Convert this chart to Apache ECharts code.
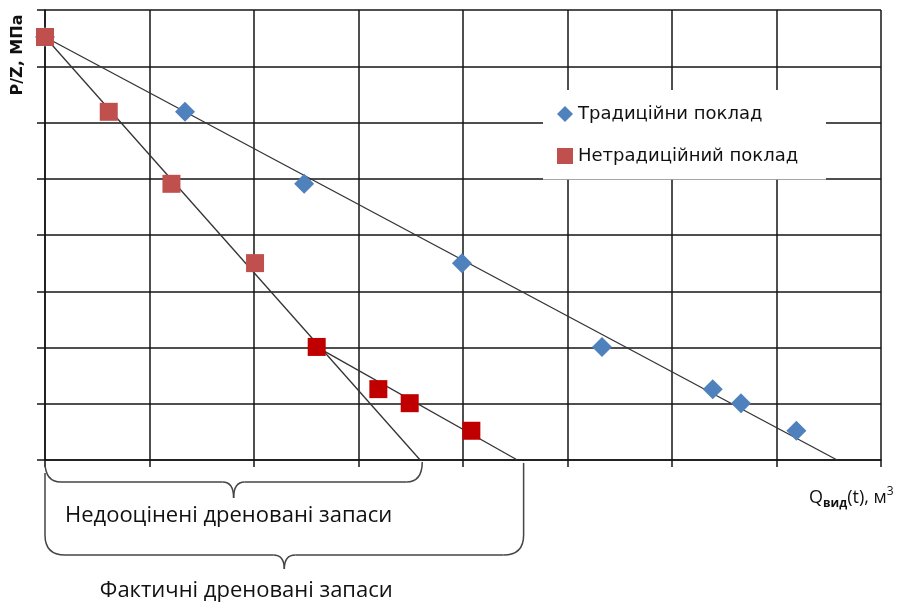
<!DOCTYPE html>
<html><head><meta charset="utf-8">
<script src="https://cdn.jsdelivr.net/npm/echarts@6/dist/echarts.min.js"></script>
<style>html,body{margin:0;padding:0;background:#fff}#c{width:908px;height:608px}</style>
</head><body><div id="c"></div>
<script>
// ---- data ----
const yValues = [7.52, 6.19, 4.91, 3.50, 2.01, 1.26, 1.01, 0.52];
const traditionalX = [0, 1.34, 2.48, 3.99, 5.33, 6.39, 6.66, 7.19];
const unconventionalX = [0, 0.61, 1.21, 2.01, 2.60, 3.19, 3.49, 4.08];
const unconventionalColors = ['#C0504D', '#C0504D', '#C0504D', '#C0504D', '#C00000', '#C00000', '#C00000', '#C00000'];
const traditionalTrend = [[0, 7.52], [7.58, 0]];
const earlyTrend = [[0, 7.52], [3.59, 0]];
const lateTrend = [[2.60, 2.01], [4.52, 0]];
const braceSpans = [[0, 3.61], [0, 4.58]];
const seriesNames = ['Традиційни поклад', 'Нетрадиційний поклад'];
const braceLabels = ['Недооцінені дреновані запаси', 'Фактичні дреновані запаси'];
const axisNames = { y: 'P/Z, МПа', xMain: 'Q', xSub: 'вид', xRest: '(t), м', xSup: '3' };

const chart = echarts.init(document.getElementById('c'));
const gridLine = { color: '#141414', width: 1.5 };
const trendStyle = { color: '#333', width: 1.3 };

const option = {
  animation: false,
  backgroundColor: '#fff',
  grid: { left: 45, right: 27, top: 10, bottom: 148 },
  xAxis: {
    type: 'value', min: 0, max: 8, interval: 1,
    axisLine: { show: true, lineStyle: gridLine },
    axisTick: { show: true, length: 7, lineStyle: gridLine },
    axisLabel: { show: false },
    splitLine: { show: true, lineStyle: gridLine }
  },
  yAxis: {
    type: 'value', min: 0, max: 8, interval: 1,
    axisLine: { show: true, lineStyle: gridLine },
    axisTick: { show: true, length: 8, lineStyle: gridLine },
    axisLabel: { show: false },
    splitLine: { show: true, lineStyle: gridLine }
  },
  legend: {
    orient: 'vertical', left: 557, top: 105, padding: 0, itemGap: 24,
    itemWidth: 16, itemHeight: 16, itemStyle: { opacity: 1 }, z: 20,
    textStyle: { fontFamily: 'DejaVu Sans', fontSize: 18, color: '#111', padding: [0, 0, 0, 0] },
    data: seriesNames
  },
  series: [
    { type: 'line', data: traditionalTrend, symbol: 'none', lineStyle: trendStyle, silent: true, z: 1 },
    { type: 'line', data: earlyTrend, symbol: 'none', lineStyle: trendStyle, silent: true, z: 1 },
    { type: 'line', data: lateTrend, symbol: 'none', lineStyle: trendStyle, silent: true, z: 1 },
    {
      name: seriesNames[0], type: 'scatter', symbol: 'diamond', symbolSize: 20,
      itemStyle: { color: '#4F81BD', opacity: 1 }, z: 2,
      data: traditionalX.map((x, i) => [x, yValues[i]])
    },
    {
      name: seriesNames[1], type: 'scatter', symbol: 'rect', symbolSize: 18,
      itemStyle: { color: '#C0504D', opacity: 1 }, z: 3,
      data: unconventionalX.map((x, i) => ({ value: [x, yValues[i]], itemStyle: { color: unconventionalColors[i], opacity: 1 } }))
    }
  ]
};
chart.setOption(option);

// ---- annotations (braces) placed from axis values ----
const px = v => chart.convertToPixel({ gridIndex: 0 }, [v, 0]);
const base = px(0)[1];
const braceStyle = { stroke: '#454545', fill: null, lineWidth: 1.5 };
const L = (x1, y1, x2, y2) => ({ type: 'line', z: 5, shape: { x1, y1, x2, y2 }, style: braceStyle });
const Q = (x1, y1, cx, cy, x2, y2) => ({ type: 'bezierCurve', z: 5, shape: { x1, y1, cpx1: cx, cpy1: cy, x2, y2 }, style: braceStyle });
function brace(a, b, yTopL, yTopR, yv, yh, tip, r) {
  const x0 = px(a)[0], x1 = px(b)[0], xm = (x0 + x1) / 2;
  const els = [];
  if (yv > yTopL) els.push(L(x0, yTopL, x0, yv));
  els.push(Q(x0, yv, x0, yh, x0 + r, yh));
  els.push(L(x0 + r, yh, xm - 11, yh));
  els.push(Q(xm - 11, yh, xm, yh, xm, tip));
  els.push(Q(xm, tip, xm, yh, xm + 11, yh));
  els.push(L(xm + 11, yh, x1 - r, yh));
  els.push(Q(x1 - r, yh, x1, yh, x1, yv));
  if (yv > yTopR) els.push(L(x1, yv, x1, yTopR));
  return els;
}
const labelFont = { fontFamily: 'Open Sans', fontSize: 22, fill: '#111', align: 'center', verticalAlign: 'middle' };
const m1 = (px(braceSpans[0][0])[0] + px(braceSpans[0][1])[0]) / 2;
const m2 = (px(braceSpans[1][0])[0] + px(braceSpans[1][1])[0]) / 2;

const graphics = [
  { type: 'rect', z: 10, shape: { x: 543, y: 90, width: 283, height: 89.5 }, style: { fill: '#fff' } }
]
  .concat(brace(braceSpans[0][0], braceSpans[0][1], base + 2, base + 2, base + 2, base + 22, base + 38, 16))
  .concat(brace(braceSpans[1][0], braceSpans[1][1], base + 13, base + 3, base + 75, base + 95, base + 109, 20))
  .concat([
    { type: 'text', z: 5, x: m1 - 5, y: base + 56, style: Object.assign({ text: braceLabels[0] }, labelFont) },
    { type: 'text', z: 5, x: m2 - 38, y: base + 131, style: Object.assign({ text: braceLabels[1] }, labelFont) },
    {
      type: 'text', z: 5, x: 18, y: 55, rotation: Math.PI / 2,
      style: { text: axisNames.y, fontFamily: 'DejaVu Sans', fontWeight: 'bold', fontSize: 16, fill: '#111', align: 'center', verticalAlign: 'middle' }
    },
    {
      type: 'text', z: 5, x: 809, y: 498,
      style: {
        text: `{q|${axisNames.xMain}}{s|${axisNames.xSub}}{n|${axisNames.xRest}}{p|${axisNames.xSup}}`,
        align: 'left', verticalAlign: 'middle',
        rich: {
          q: { fontFamily: 'Open Sans', fontSize: 18, fill: '#111', lineHeight: 24, verticalAlign: 'middle' },
          s: { fontFamily: 'Open Sans', fontSize: 12, fill: '#111', fontWeight: 'bold', lineHeight: 24, verticalAlign: 'bottom' },
          n: { fontFamily: 'Open Sans', fontSize: 18, fill: '#111', lineHeight: 24, verticalAlign: 'middle' },
          p: { fontFamily: 'Open Sans', fontSize: 12, fill: '#111', lineHeight: 24, verticalAlign: 'top' }
        }
      }
    }
  ]);
chart.setOption({ graphic: graphics });
</script></body></html>
